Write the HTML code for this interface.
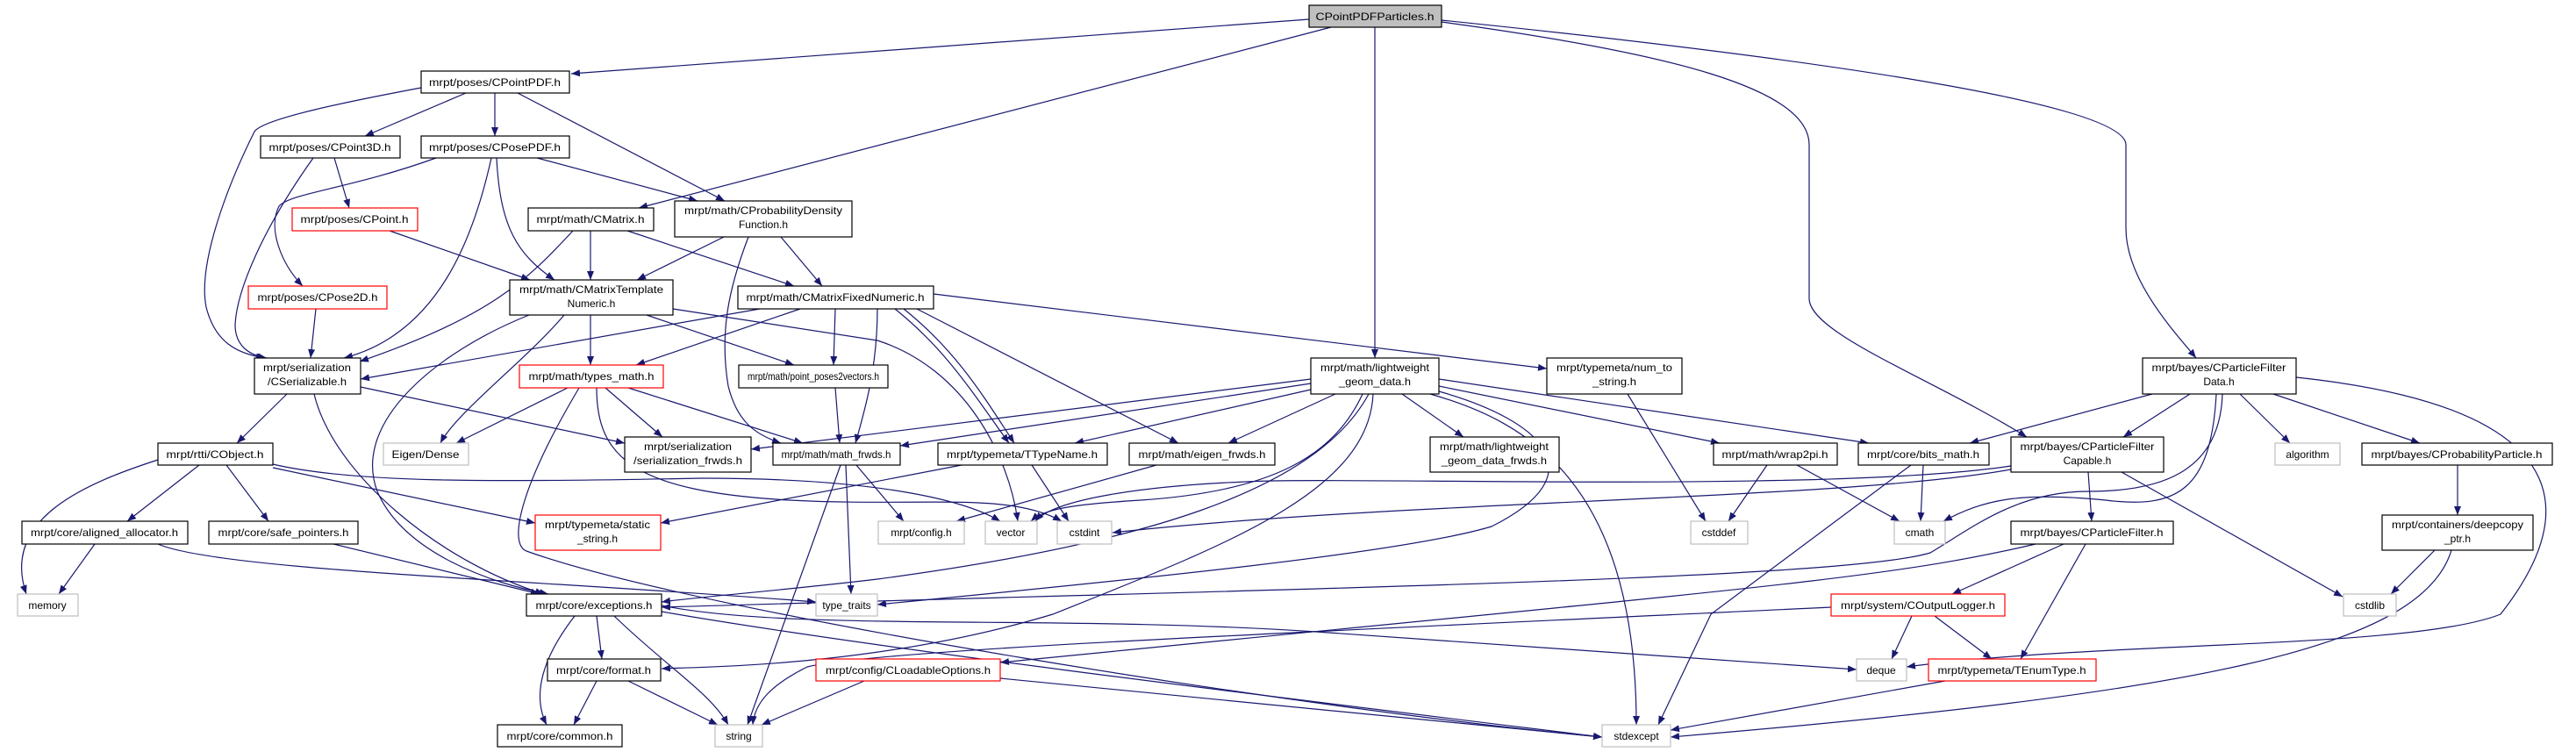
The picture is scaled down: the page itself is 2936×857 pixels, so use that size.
<!DOCTYPE html>
<html><head><meta charset="utf-8"><style>
html,body{margin:0;padding:0;background:#fff;}
svg{display:block;}
text{font-family:"Liberation Sans",sans-serif;font-size:12px;fill:#000;text-anchor:middle;}
.e{fill:none;stroke:#191970;stroke-width:1.2;marker-end:url(#a);}
.b{fill:#fff;stroke:#000;stroke-width:1.2;}
.r{fill:#fff;stroke:#ff0000;stroke-width:1.2;}
.g{fill:#fff;stroke:#bfbfbf;stroke-width:1.2;}
</style></head><body>
<svg width="2936" height="857" viewBox="0 0 2936 857" xmlns="http://www.w3.org/2000/svg">
<defs><marker id="a" markerWidth="10" markerHeight="8" refX="10" refY="4" orient="auto" markerUnits="userSpaceOnUse"><path d="M0,0 L10,4 L0,8z" fill="#191970"/></marker></defs>
<g>
<path class="e" d="M1492,22 L651,84"/>
<path class="e" d="M1517,31 L728,237"/>
<path class="e" d="M1567,31 L1567,408"/>
<path class="e" d="M1643,25 C1900,60 2062,100 2062,165 L2062,340 C2062,380 2200,430 2310,498"/>
<path class="e" d="M1643,23 C2100,70 2423,120 2423,165 L2423,260 C2423,320 2480,380 2503,408"/>
<path class="e" d="M480,100 C400,115 300,135 290,150 C260,210 225,300 235,350 C245,390 270,403 302,408"/>
<path class="e" d="M531,106 L416,155"/>
<path class="e" d="M564,106 L564,155"/>
<path class="e" d="M590,106 L826,229"/>
<path class="e" d="M381,180 L398,237"/>
<path class="e" d="M357,180 C300,260 270,330 268,370 C268,395 285,405 304,408"/>
<path class="e" d="M497,180 C400,215 330,220 318,235 C305,260 320,300 345,326"/>
<path class="e" d="M560,180 C540,270 500,380 392,408"/>
<path class="e" d="M566,180 C570,260 590,290 632,319"/>
<path class="e" d="M612,180 L795,229"/>
<path class="e" d="M444,263 L604,319"/>
<path class="e" d="M653,263 C600,320 560,360 410,412"/>
<path class="e" d="M673,263 L673,319"/>
<path class="e" d="M715,263 L905,326"/>
<path class="e" d="M825,270 L726,319"/>
<path class="e" d="M890,270 L937,326"/>
<path class="e" d="M853,270 C830,330 820,380 830,440 C840,480 860,495 890,505"/>
<path class="e" d="M360,352 L354,408"/>
<path class="e" d="M603,359 C500,400 400,480 430,560 C460,630 560,665 625,677"/>
<path class="e" d="M643,359 C600,410 520,470 502,505"/>
<path class="e" d="M673,359 L673,416"/>
<path class="e" d="M737,359 L905,416"/>
<path class="e" d="M767,352 L1000,388 C1100,420 1150,520 1160,594"/>
<path class="e" d="M866,352 L411,432"/>
<path class="e" d="M912,352 L725,416"/>
<path class="e" d="M952,352 L950,416"/>
<path class="e" d="M1000,352 C1000,420 985,470 975,505"/>
<path class="e" d="M1020,352 C1080,400 1110,450 1150,505"/>
<path class="e" d="M1030,352 C1090,400 1120,450 1156,505"/>
<path class="e" d="M1045,352 L1343,505"/>
<path class="e" d="M1064,335 L1763,420"/>
<path class="e" d="M327,449 L270,505"/>
<path class="e" d="M411,441 L712,505"/>
<path class="e" d="M358,449 C380,540 500,640 620,677"/>
<path class="e" d="M647,442 L520,505"/>
<path class="e" d="M690,442 L755,498"/>
<path class="e" d="M716,442 L915,505"/>
<path class="e" d="M660,442 C590,560 580,620 600,628 C800,700 1500,810 1826,840"/>
<path class="e" d="M680,442 C680,520 720,560 900,570 C1050,578 1150,560 1210,594"/>
<path class="e" d="M180,524 C100,550 0,590 30,677"/>
<path class="e" d="M227,530 L145,594"/>
<path class="e" d="M258,530 L306,594"/>
<path class="e" d="M311,533 L610,596"/>
<path class="e" d="M311,529 C400,550 550,550 800,545 C1000,545 1100,570 1140,594"/>
<path class="e" d="M108,620 L67,677"/>
<path class="e" d="M180,620 C250,650 600,660 930,686"/>
<path class="e" d="M380,620 L615,677"/>
<path class="e" d="M1096,530 L753,596"/>
<path class="e" d="M1176,530 L1218,594"/>
<path class="e" d="M1318,530 L1090,594"/>
<path class="e" d="M958,530 L852,826"/>
<path class="e" d="M964,530 L970,677"/>
<path class="e" d="M976,530 L1030,594"/>
<path class="e" d="M952,442 L957,505"/>
<path class="e" d="M1855,449 L1944,594"/>
<path class="e" d="M1494,432 L856,512"/>
<path class="e" d="M1494,437 L1026,508"/>
<path class="e" d="M1494,444 L1225,505"/>
<path class="e" d="M1522,449 L1400,505"/>
<path class="e" d="M1598,449 L1668,498"/>
<path class="e" d="M1553,449 C1520,520 1450,560 1300,570 C1220,575 1190,580 1175,594"/>
<path class="e" d="M1560,449 C1500,560 1300,620 1000,660 C900,672 800,680 754,686"/>
<path class="e" d="M1565,449 C1560,560 1400,620 1200,700 C1000,760 800,760 754,762"/>
<path class="e" d="M1630,449 C1740,480 1865,550 1865,826"/>
<path class="e" d="M1640,446 C1760,480 1820,540 1700,600 C1600,630 1300,660 1000,689"/>
<path class="e" d="M1640,440 L1960,505"/>
<path class="e" d="M1640,432 L2130,505"/>
<path class="e" d="M2453,449 L2245,505"/>
<path class="e" d="M2496,449 L2420,498"/>
<path class="e" d="M2553,449 L2610,505"/>
<path class="e" d="M2591,449 L2758,505"/>
<path class="e" d="M2526,449 C2520,560 2480,580 2400,570 C2300,560 2260,570 2215,594"/>
<path class="e" d="M2533,449 C2530,540 2460,560 2380,560 C2300,560 2250,600 2200,630 C2100,660 1500,670 754,692"/>
<path class="e" d="M2617,430 C2900,460 2960,560 2850,700 C2750,740 2400,730 2173,760"/>
<path class="e" d="M2380,538 L2384,594"/>
<path class="e" d="M2418,538 L2670,680"/>
<path class="e" d="M2292,531 C2100,560 1600,545 1450,548 C1300,552 1200,570 1180,594"/>
<path class="e" d="M2292,535 C2100,570 1600,570 1268,607"/>
<path class="e" d="M2352,620 L2225,677"/>
<path class="e" d="M2377,620 L2303,751"/>
<path class="e" d="M2320,620 C2150,660 2000,670 1140,755"/>
<path class="e" d="M2179,702 L2156,751"/>
<path class="e" d="M2205,702 L2270,751"/>
<path class="e" d="M2087,692 C1500,720 1000,740 920,760 C880,780 860,800 858,826"/>
<path class="e" d="M754,690 C900,720 1200,700 1500,720 L2116,763"/>
<path class="e" d="M680,702 L686,751"/>
<path class="e" d="M655,702 C610,760 610,800 623,826"/>
<path class="e" d="M700,702 C760,760 810,790 830,826"/>
<path class="e" d="M754,697 C1000,740 1500,800 1826,840"/>
<path class="e" d="M680,776 L654,826"/>
<path class="e" d="M716,776 L818,826"/>
<path class="e" d="M985,776 L868,826"/>
<path class="e" d="M1140,773 L1826,840"/>
<path class="e" d="M2217,776 L1904,832"/>
<path class="e" d="M2775,627 L2725,677"/>
<path class="e" d="M2794,627 C2760,740 2500,790 1904,840"/>
<path class="e" d="M2801,530 L2801,587"/>
<path class="e" d="M2014,530 L1970,594"/>
<path class="e" d="M2048,530 L2165,594"/>
<path class="e" d="M2192,530 L2189,594"/>
<path class="e" d="M2178,530 L1950,700 L1890,826"/>
</g>
<g>
<rect x="1492" y="6" width="151" height="25" fill="#bfbfbf" stroke="#000" stroke-width="1.2"/><text x="1567" y="23" textLength="135" lengthAdjust="spacingAndGlyphs">CPointPDFParticles.h</text>
<rect class="b" x="480" y="81" width="169" height="25"/><text x="564" y="98" textLength="150" lengthAdjust="spacingAndGlyphs">mrpt/poses/CPointPDF.h</text>
<rect class="b" x="297" y="155" width="159" height="25"/><text x="376" y="172" textLength="139" lengthAdjust="spacingAndGlyphs">mrpt/poses/CPoint3D.h</text>
<rect class="b" x="480" y="155" width="169" height="25"/><text x="564" y="172" textLength="150" lengthAdjust="spacingAndGlyphs">mrpt/poses/CPosePDF.h</text>
<rect class="r" x="333" y="237" width="143" height="26"/><text x="404" y="254" textLength="123" lengthAdjust="spacingAndGlyphs">mrpt/poses/CPoint.h</text>
<rect class="b" x="602" y="237" width="143" height="26"/><text x="673" y="254" textLength="123" lengthAdjust="spacingAndGlyphs">mrpt/math/CMatrix.h</text>
<rect class="b" x="769" y="229" width="202" height="41"/><text x="870" y="244" textLength="180" lengthAdjust="spacingAndGlyphs">mrpt/math/CProbabilityDensity</text><text x="870" y="260">Function.h</text>
<rect class="b" x="581" y="319" width="186" height="40"/><text x="674" y="334" textLength="164" lengthAdjust="spacingAndGlyphs">mrpt/math/CMatrixTemplate</text><text x="674" y="350">Numeric.h</text>
<rect class="b" x="841" y="326" width="223" height="26"/><text x="952" y="343" textLength="203" lengthAdjust="spacingAndGlyphs">mrpt/math/CMatrixFixedNumeric.h</text>
<rect class="r" x="283" y="326" width="158" height="26"/><text x="362" y="343" textLength="137" lengthAdjust="spacingAndGlyphs">mrpt/poses/CPose2D.h</text>
<rect class="b" x="290" y="408" width="121" height="41"/><text x="350" y="423" textLength="100" lengthAdjust="spacingAndGlyphs">mrpt/serialization</text><text x="350" y="439" textLength="90" lengthAdjust="spacingAndGlyphs">/CSerializable.h</text>
<rect class="r" x="592" y="416" width="164" height="26"/><text x="674" y="433" textLength="143" lengthAdjust="spacingAndGlyphs">mrpt/math/types_math.h</text>
<rect class="b" x="842" y="416" width="170" height="26"/><text x="927" y="433" textLength="150" lengthAdjust="spacingAndGlyphs">mrpt/math/point_poses2vectors.h</text>
<rect class="b" x="1494" y="408" width="146" height="41"/><text x="1567" y="423" textLength="124" lengthAdjust="spacingAndGlyphs">mrpt/math/lightweight</text><text x="1567" y="439" textLength="82" lengthAdjust="spacingAndGlyphs">_geom_data.h</text>
<rect class="b" x="1763" y="408" width="154" height="41"/><text x="1840" y="423" textLength="132" lengthAdjust="spacingAndGlyphs">mrpt/typemeta/num_to</text><text x="1840" y="439" textLength="50" lengthAdjust="spacingAndGlyphs">_string.h</text>
<rect class="b" x="2442" y="408" width="175" height="41"/><text x="2529" y="423" textLength="153" lengthAdjust="spacingAndGlyphs">mrpt/bayes/CParticleFilter</text><text x="2529" y="439">Data.h</text>
<rect class="b" x="180" y="505" width="131" height="25"/><text x="245" y="522" textLength="111" lengthAdjust="spacingAndGlyphs">mrpt/rtti/CObject.h</text>
<rect class="g" x="437" y="505" width="97" height="25"/><text x="485" y="522" textLength="77" lengthAdjust="spacingAndGlyphs">Eigen/Dense</text>
<rect class="b" x="712" y="498" width="144" height="40"/><text x="784" y="513" textLength="100" lengthAdjust="spacingAndGlyphs">mrpt/serialization</text><text x="784" y="529" textLength="124" lengthAdjust="spacingAndGlyphs">/serialization_frwds.h</text>
<rect class="b" x="881" y="505" width="145" height="25"/><text x="953" y="522" textLength="125" lengthAdjust="spacingAndGlyphs">mrpt/math/math_frwds.h</text>
<rect class="b" x="1069" y="505" width="193" height="25"/><text x="1165" y="522" textLength="172" lengthAdjust="spacingAndGlyphs">mrpt/typemeta/TTypeName.h</text>
<rect class="b" x="1287" y="505" width="166" height="25"/><text x="1370" y="522" textLength="145" lengthAdjust="spacingAndGlyphs">mrpt/math/eigen_frwds.h</text>
<rect class="b" x="1630" y="498" width="147" height="40"/><text x="1703" y="513" textLength="124" lengthAdjust="spacingAndGlyphs">mrpt/math/lightweight</text><text x="1703" y="529" textLength="120" lengthAdjust="spacingAndGlyphs">_geom_data_frwds.h</text>
<rect class="b" x="1953" y="505" width="141" height="25"/><text x="2023" y="522" textLength="121" lengthAdjust="spacingAndGlyphs">mrpt/math/wrap2pi.h</text>
<rect class="b" x="2118" y="505" width="149" height="25"/><text x="2192" y="522" textLength="128" lengthAdjust="spacingAndGlyphs">mrpt/core/bits_math.h</text>
<rect class="b" x="2292" y="498" width="174" height="40"/><text x="2379" y="513" textLength="153" lengthAdjust="spacingAndGlyphs">mrpt/bayes/CParticleFilter</text><text x="2379" y="529">Capable.h</text>
<rect class="g" x="2593" y="505" width="74" height="25"/><text x="2630" y="522">algorithm</text>
<rect class="b" x="2692" y="505" width="217" height="25"/><text x="2800" y="522" textLength="195" lengthAdjust="spacingAndGlyphs">mrpt/bayes/CProbabilityParticle.h</text>
<rect class="r" x="610" y="587" width="143" height="40"/><text x="681" y="602" textLength="120" lengthAdjust="spacingAndGlyphs">mrpt/typemeta/static</text><text x="681" y="618">_string.h</text>
<rect class="b" x="25" y="594" width="189" height="26"/><text x="119" y="611" textLength="168" lengthAdjust="spacingAndGlyphs">mrpt/core/aligned_allocator.h</text>
<rect class="b" x="238" y="594" width="170" height="26"/><text x="323" y="611" textLength="149" lengthAdjust="spacingAndGlyphs">mrpt/core/safe_pointers.h</text>
<rect class="g" x="1001" y="594" width="98" height="26"/><text x="1050" y="611">mrpt/config.h</text>
<rect class="g" x="1123" y="594" width="59" height="26"/><text x="1152" y="611">vector</text>
<rect class="g" x="1205" y="594" width="62" height="26"/><text x="1236" y="611">cstdint</text>
<rect class="g" x="1927" y="594" width="65" height="26"/><text x="1959" y="611">cstddef</text>
<rect class="g" x="2159" y="594" width="58" height="26"/><text x="2188" y="611">cmath</text>
<rect class="b" x="2292" y="594" width="185" height="26"/><text x="2384" y="611" textLength="163" lengthAdjust="spacingAndGlyphs">mrpt/bayes/CParticleFilter.h</text>
<rect class="b" x="2715" y="587" width="172" height="40"/><text x="2801" y="602" textLength="150" lengthAdjust="spacingAndGlyphs">mrpt/containers/deepcopy</text><text x="2801" y="618">_ptr.h</text>
<rect class="g" x="20" y="677" width="69" height="25"/><text x="54" y="694">memory</text>
<rect class="b" x="600" y="677" width="154" height="25"/><text x="677" y="694" textLength="133" lengthAdjust="spacingAndGlyphs">mrpt/core/exceptions.h</text>
<rect class="g" x="930" y="677" width="70" height="25"/><text x="965" y="694">type_traits</text>
<rect class="g" x="2671" y="677" width="60" height="25"/><text x="2701" y="694">cstdlib</text>
<rect class="r" x="2087" y="677" width="198" height="25"/><text x="2186" y="694" textLength="176" lengthAdjust="spacingAndGlyphs">mrpt/system/COutputLogger.h</text>
<rect class="b" x="624" y="751" width="129" height="25"/><text x="688" y="768" textLength="108" lengthAdjust="spacingAndGlyphs">mrpt/core/format.h</text>
<rect class="r" x="930" y="751" width="210" height="25"/><text x="1035" y="768" textLength="188" lengthAdjust="spacingAndGlyphs">mrpt/config/CLoadableOptions.h</text>
<rect class="g" x="2116" y="751" width="57" height="25"/><text x="2144" y="768">deque</text>
<rect class="r" x="2198" y="751" width="191" height="25"/><text x="2293" y="768" textLength="169" lengthAdjust="spacingAndGlyphs">mrpt/typemeta/TEnumType.h</text>
<rect class="b" x="567" y="826" width="142" height="25"/><text x="638" y="843" textLength="121" lengthAdjust="spacingAndGlyphs">mrpt/core/common.h</text>
<rect class="g" x="815" y="826" width="54" height="25"/><text x="842" y="843">string</text>
<rect class="g" x="1826" y="826" width="78" height="25"/><text x="1865" y="843">stdexcept</text>
</g>
</svg>
</body></html>
